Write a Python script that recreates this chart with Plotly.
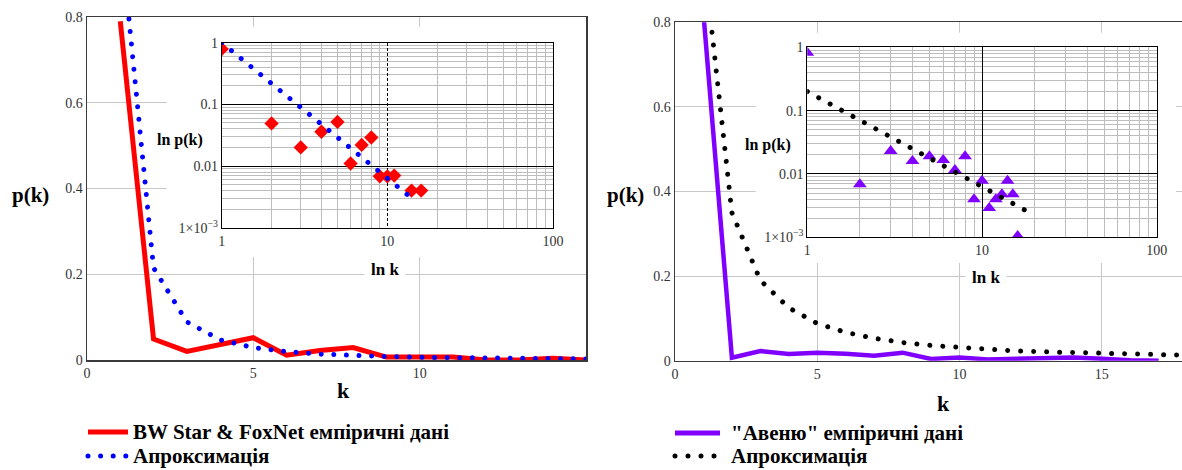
import plotly.graph_objects as go

W, H = 1182, 470

# ---------------- data ----------------
# Left panel: BW Star & FoxNet empirical distribution
k_bw = [1, 2, 3, 4, 5, 6, 7, 8, 9, 10, 11, 12, 13, 14, 15, 16]
p_bw = [0.79, 0.049, 0.020, 0.036, 0.052, 0.011, 0.022, 0.029, 0.0068, 0.0068,
        0.0070, 0.0, 0.0, 0.0040, 0.0, 0.0040]
# Left panel: approximation
k_fit_l = [1, 2, 3, 4, 5, 6, 7, 8, 9, 10, 11, 12, 13, 14, 15]
p_fit_l = [1.0, 0.215, 0.089, 0.047, 0.029, 0.0194, 0.0138, 0.0103, 0.0080,
           0.0063, 0.0051, 0.0042, 0.0035, 0.0030, 0.0026]

# Right panel: "Авеню" empirical distribution
k_av = [1, 2, 3, 4, 5, 6, 7, 8, 9, 10, 11, 12, 13, 14, 15, 16, 17]
p_av = [0.82, 0.0069, 0.023, 0.016, 0.019, 0.0166, 0.0115, 0.019, 0.0040,
        0.0078, 0.0029, 0.0040, 0.0048, 0.0078, 0.0048, 0.00105, 0.0]
# Right panel: approximation (main plot)
k_fit_r = [1, 2, 3, 4, 5, 6, 7, 8, 9, 10, 11, 12, 13, 14, 15, 16, 17, 18]
p_fit_r = [0.96, 0.35, 0.19, 0.125, 0.088, 0.067, 0.053, 0.043, 0.036, 0.031,
           0.026, 0.023, 0.021, 0.019, 0.017, 0.015, 0.014, 0.013]
# Right panel: approximation (log-log inset)
k_fit_r_log = [1, 2, 3, 4, 5, 6, 7, 8, 9, 10, 11, 12, 13, 14, 15, 16, 17, 18, 19]
p_fit_r_log = [0.20, 0.071, 0.039, 0.025, 0.018, 0.0137, 0.0108, 0.0088, 0.0074,
               0.0063, 0.0055, 0.0048, 0.0043, 0.0038, 0.0034, 0.0031, 0.0029,
               0.0026, 0.0024]

# tick labels
main_x_ticks_l = [0, 5, 10]
main_x_ticks_r = [0, 5, 10, 15]
main_y_ticks = [0, 0.2, 0.4, 0.6, 0.8]
main_y_text = ["0", "0.2", "0.4", "0.6", "0.8"]
log_x_ticks = [1, 10, 100]
log_x_text = ["1", "10", "100"]
log_y_ticks = [0.001, 0.01, 0.1, 1]
log_y_text = ["1×10<sup>−3</sup>", "0.01", "0.1", "1"]
log_x_minor = [m * d for d in (1, 10) for m in range(2, 10)]
log_y_minor = [m * d for d in (0.001, 0.01, 0.1) for m in range(2, 10)]

name_bw = "BW Star & FoxNet емпіричні дані"
name_av = "\"Авеню\" емпіричні дані"
name_fit = "Апроксимація"

# ---------------- styling ----------------
SERIF = "Liberation Serif, 'Times New Roman', Times, serif"
RED = "#ff0000"
BLUE = "#0000ff"
PURPLE = "#8000ff"
BLACK = "#000000"
DOT_L = "4.5px,8.1px"
DOT_R = "4.5px,8.5px"


def px_x(a, b):
    return [a / W, b / W]


def px_y(top, bottom):
    return [1 - bottom / H, 1 - top / H]


fig = go.Figure()

# left main
fig.add_trace(go.Scatter(x=k_bw, y=p_bw, mode="lines", name=name_bw,
                         line=dict(color=RED, width=5), xaxis="x", yaxis="y"))
fig.add_trace(go.Scatter(x=k_fit_l, y=p_fit_l, mode="lines", name=name_fit,
                         line=dict(color=BLUE, width=5, dash=DOT_L),
                         xaxis="x", yaxis="y"))
# left inset
fig.add_trace(go.Scatter(x=k_bw, y=p_bw, mode="markers", name=name_bw,
                         marker=dict(symbol="diamond", size=11, color=RED),
                         xaxis="x2", yaxis="y2"))
fig.add_trace(go.Scatter(x=k_fit_l, y=p_fit_l, mode="lines", name=name_fit,
                         line=dict(color=BLUE, width=5, dash=DOT_L),
                         xaxis="x2", yaxis="y2"))
# right main
fig.add_trace(go.Scatter(x=k_av, y=p_av, mode="lines", name=name_av,
                         line=dict(color=PURPLE, width=4.5), xaxis="x3", yaxis="y3"))
fig.add_trace(go.Scatter(x=k_fit_r, y=p_fit_r, mode="lines", name=name_fit,
                         line=dict(color=BLACK, width=5, dash=DOT_R),
                         xaxis="x3", yaxis="y3"))
# right inset
fig.add_trace(go.Scatter(x=k_av, y=p_av, mode="markers", name=name_av,
                         marker=dict(symbol="triangle-up", size=12, color=PURPLE),
                         xaxis="x4", yaxis="y4"))
fig.add_trace(go.Scatter(x=k_fit_r_log, y=p_fit_r_log, mode="lines", name=name_fit,
                         line=dict(color=BLACK, width=5, dash=DOT_R),
                         xaxis="x4", yaxis="y4"))

tickfont = dict(family=SERIF, size=14, color="#333333")
main_axis = dict(showline=True, linecolor="#3a3a3a", linewidth=1.5, ticks="",
                 showgrid=True, gridcolor="#c8c8c8", gridwidth=1, zeroline=False,
                 tickfont=tickfont, automargin=False)
log_axis = dict(type="log", showline=True, linecolor=BLACK, linewidth=1, mirror=True,
                ticks="", showgrid=True, gridcolor=BLACK, gridwidth=1, zeroline=False,
                tickfont=tickfont, automargin=False)
minor_grid = dict(tickmode="array", showgrid=True, gridcolor="#bdbdbd", gridwidth=1,
                  griddash="solid", ticks="")

fig.update_layout(
    template="none",
    width=W, height=H, margin=dict(l=0, r=0, t=0, b=0, autoexpand=False),
    paper_bgcolor="white", plot_bgcolor="white", showlegend=False,
    xaxis=dict(main_axis, domain=px_x(87, 586), range=[0, 15], mirror=True,
               tickmode="array", tickvals=main_x_ticks_l, anchor="y"),
    yaxis=dict(main_axis, domain=px_y(17, 360), range=[0, 0.8], mirror=True,
               tickmode="array", tickvals=main_y_ticks, ticktext=main_y_text, anchor="x"),
    xaxis2=dict(log_axis, domain=px_x(221.7, 553), range=[0, 2], anchor="y2",
                tickmode="array", tickvals=log_x_ticks, ticktext=log_x_text,
                griddash="3px,2px", minor=dict(minor_grid, tickvals=log_x_minor)),
    yaxis2=dict(log_axis, domain=px_y(42.7, 227.7), range=[-3, 0], anchor="x2",
                tickmode="array", tickvals=log_y_ticks, ticktext=log_y_text,
                minor=dict(minor_grid, tickvals=log_y_minor)),
    xaxis3=dict(main_axis, domain=[675 / W, 1.0], range=[0, (1182 - 675) / 28.45],
                mirror=True, tickmode="array", tickvals=main_x_ticks_r, anchor="y3"),
    yaxis3=dict(main_axis, domain=px_y(22.3, 360.7), range=[0, 0.8], mirror=False,
                tickmode="array", tickvals=main_y_ticks, ticktext=main_y_text, anchor="x3"),
    xaxis4=dict(log_axis, domain=px_x(807.3, 1156.7), range=[0, 2], anchor="y4",
                tickmode="array", tickvals=log_x_ticks, ticktext=log_x_text,
                minor=dict(minor_grid, tickvals=log_x_minor)),
    yaxis4=dict(log_axis, domain=px_y(47.3, 237.3), range=[-3, 0], anchor="x4",
                tickmode="array", tickvals=log_y_ticks, ticktext=log_y_text,
                minor=dict(minor_grid, tickvals=log_y_minor)),
)

# white areas behind the insets hide the main gridlines there
fig.add_shape(type="rect", xref="x", yref="y", x0=2.40, x1=15, y0=0.240, y1=0.777,
              fillcolor="white", line=dict(width=0), layer="between")
fig.add_shape(type="rect", xref="x3", yref="y3", x0=2.84, x1=17.61, y0=0.231, y1=0.775,
              fillcolor="white", line=dict(width=0), layer="between")


def label(text, x, y, size, bg=None, pad=1, anchor="center"):
    fig.add_annotation(text=text, x=x / W, y=1 - y / H, xref="paper", yref="paper",
                       showarrow=False, xanchor=anchor, yanchor="middle",
                       font=dict(family=SERIF, size=size, color=BLACK, weight="bold"),
                       bgcolor=bg, borderpad=pad)


def legend_row(x0, x1, y, color, dash, text, tx):
    fig.add_shape(type="line", xref="paper", yref="paper", x0=x0 / W, x1=x1 / W,
                  y0=1 - y / H, y1=1 - y / H, line=dict(color=color, width=5, dash=dash))
    label(text, tx, y, 21, anchor="left", pad=0)


label("p(k)", 30, 195, 21)
label("p(k)", 625, 195, 21)
label("k", 343, 390, 22)
label("k", 943, 403, 22)
label("ln p(k)", 180, 140, 16)
label("ln p(k)", 768, 145, 16)
label("ln k", 385, 269, 17, bg="white", pad=6)
label("ln k", 986, 277, 17, bg="white", pad=6)

# legends (one under each panel)
legend_row(88, 128, 432, RED, "solid", name_bw, 132)
legend_row(88, 128, 456, BLUE, DOT_L, name_fit, 132)
legend_row(675, 720, 433, PURPLE, "solid", name_av, 730)
legend_row(675, 720, 456, BLACK, DOT_R, name_fit, 730)

# page without the default body margin, and Mathcad-like round dots for the
# dotted traces
post = """
document.body.style.margin = '0';
document.body.style.overflow = 'hidden';
var gd = document.getElementById('{plot_id}');
gd.querySelectorAll('path').forEach(function(p) {
  var d = p.style.strokeDasharray || '';
  if (d.indexOf('8.1px') >= 0) {
    p.style.strokeLinecap = 'round';
    p.style.strokeDasharray = '0.001px, 12.6px';
  } else if (d.indexOf('8.5px') >= 0) {
    p.style.strokeLinecap = 'round';
    p.style.strokeDasharray = '0.001px, 13px';
  }
});
"""

fig.write_html("out.html", post_script=post,
               config={"displayModeBar": False, "staticPlot": True})
